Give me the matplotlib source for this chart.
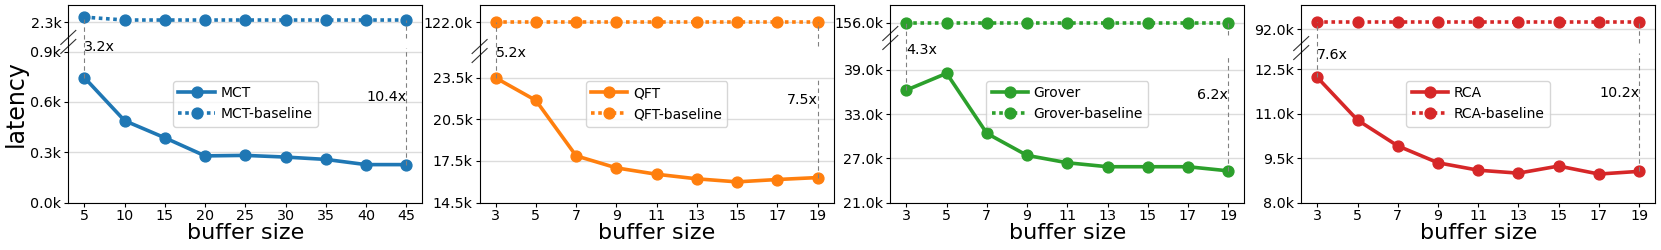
import numpy as np
import matplotlib
matplotlib.use("Agg")
import matplotlib.pyplot as plt
from matplotlib.transforms import blended_transform_factory

# latency values in thousands (k)
mct_x = [5, 10, 15, 20, 25, 30, 35, 40, 45]
mct = [0.745, 0.488, 0.386, 0.278, 0.281, 0.271, 0.257, 0.226, 0.226]
mct_base = [2.39, 2.34, 2.34, 2.34, 2.34, 2.34, 2.34, 2.34, 2.34]

buf_x = [3, 5, 7, 9, 11, 13, 15, 17, 19]
qft = [23.5, 21.87, 17.87, 17.0, 16.54, 16.21, 15.99, 16.16, 16.3]
qft_base = [122.0] * 9
grover = [36.27, 38.55, 30.39, 27.4, 26.4, 25.86, 25.86, 25.86, 25.3]
grover_base = [156.0] * 9
rca = [12.22, 10.78, 9.91, 9.34, 9.09, 8.99, 9.23, 8.96, 9.05]
rca_base = [92.6] * 9

names = ["MCT", "QFT", "Grover", "RCA"]
xs = [mct_x, buf_x, buf_x, buf_x]
mains = [mct, qft, grover, rca]
bases = [mct_base, qft_base, grover_base, rca_base]
yticks = [
    [0.0, 0.3, 0.6, 0.9, 2.3],
    [14.5, 17.5, 20.5, 23.5, 122.0],
    [21.0, 27.0, 33.0, 39.0, 156.0],
    [8.0, 9.5, 11.0, 12.5, 92.0],
]
first_speedup = ["3.2x", "5.2x", "4.3x", "7.6x"]
last_speedup = ["10.4x", "7.5x", "6.2x", "10.2x"]

COLORS = ["#1f77b4", "#ff7f0e", "#2ca02c", "#d62728"]

# broken-axis layout: (bottom, top of lower part, bottom of upper part, top)
# and the axes fractions where the lower part ends / upper part starts
LIMS = [(0.0, 0.92, 2.022, 2.60),
        (14.5, 23.5, 121.0, 122.72),
        (21.0, 40.8, 155.0, 157.4),
        (8.0, 13.03, 90.9, 93.9)]
FRACS = [(0.781, 0.831), (0.631, 0.790), (0.738, 0.848), (0.755, 0.806)]
BREAK_Y = [0.813, 0.767, 0.833, 0.782]
FIRST_TXT_Y = [0.787, 0.755, 0.772, 0.747]
LAST_TXT_Y = [0.534, 0.519, 0.544, 0.553]
AX_LEFT_PX = [68.3, 479.6, 890.3, 1301.2]

FIG_W, FIG_H = 1661, 250


def piecewise(xp, fp):
    """Piecewise-linear map with linear extrapolation at both ends."""
    xp = np.asarray(xp, float)
    fp = np.asarray(fp, float)
    s_lo = (fp[1] - fp[0]) / (xp[1] - xp[0])
    s_hi = (fp[-1] - fp[-2]) / (xp[-1] - xp[-2])

    def f(v):
        v = np.asarray(v, float)
        out = np.interp(v, xp, fp)
        out = np.where(v < xp[0], fp[0] + (v - xp[0]) * s_lo, out)
        out = np.where(v > xp[-1], fp[-1] + (v - xp[-1]) * s_hi, out)
        return out
    return f


fig = plt.figure(figsize=(FIG_W / 100, FIG_H / 100), dpi=100)

for i in range(4):
    ax = fig.add_axes([AX_LEFT_PX[i] / FIG_W, 47.5 / FIG_H, 354 / FIG_W, 197.5 / FIG_H])
    lo, b, u, hi = LIMS[i]
    fb, fu = FRACS[i]
    fwd = piecewise([lo, b, u, hi], [0, fb, fu, 1])
    inv = piecewise([0, fb, fu, 1], [lo, b, u, hi])
    ax.set_yscale("function", functions=(fwd, inv))

    x, y, base, c = xs[i], mains[i], bases[i], COLORS[i]
    ax.plot(x, y, "-o", color=c, lw=2.6, ms=7.8, label=names[i])
    ax.plot(x, base, "o", linestyle=(0, (1, 1)), color=c, lw=2.6, ms=7.8,
            label=names[i] + "-baseline")

    ax.set_ylim(lo, hi)
    ax.set_yticks(yticks[i])
    ax.set_yticklabels([f"{t:.1f}k" for t in yticks[i]])
    ax.set_xticks(x)
    ax.tick_params(labelsize=10.3, length=3, pad=2)
    ax.grid(axis="y", color="#dcdcdc", lw=1)
    ax.set_axisbelow(True)

    # speedup markers
    dash = dict(color="gray", lw=0.8, linestyle=(0, (4, 3)))
    ax.vlines(x[0], y[0], base[0], **dash)
    ax.vlines(x[-1], u, base[-1], **dash)
    ax.vlines(x[-1], y[-1], b, **dash)
    tr = blended_transform_factory(ax.transData, ax.transAxes)
    ax.text(x[0], FIRST_TXT_Y[i], first_speedup[i], transform=tr,
            ha="left", va="center", fontsize=10.3)
    ax.text(x[-1], LAST_TXT_Y[i], last_speedup[i], transform=tr,
            ha="right", va="center", fontsize=10.3)

    # break marks on the left spine
    dx, dy, off = 7.5 / 354, 7 / 197.5, 4.5 / 197.5
    for cy in (BREAK_Y[i] + off, BREAK_Y[i] - off):
        ax.plot([-dx, dx], [cy - dy, cy + dy], transform=ax.transAxes,
                color="#333333", lw=0.8, clip_on=False)

    ax.legend(loc="center", fontsize=10, handlelength=2.6, handletextpad=0.4)
    ax.set_xlabel("buffer size", fontsize=16, labelpad=0)
    if i == 0:
        ax.set_ylabel("latency", fontsize=17, labelpad=2)

fig.savefig("out.png", dpi=100)
